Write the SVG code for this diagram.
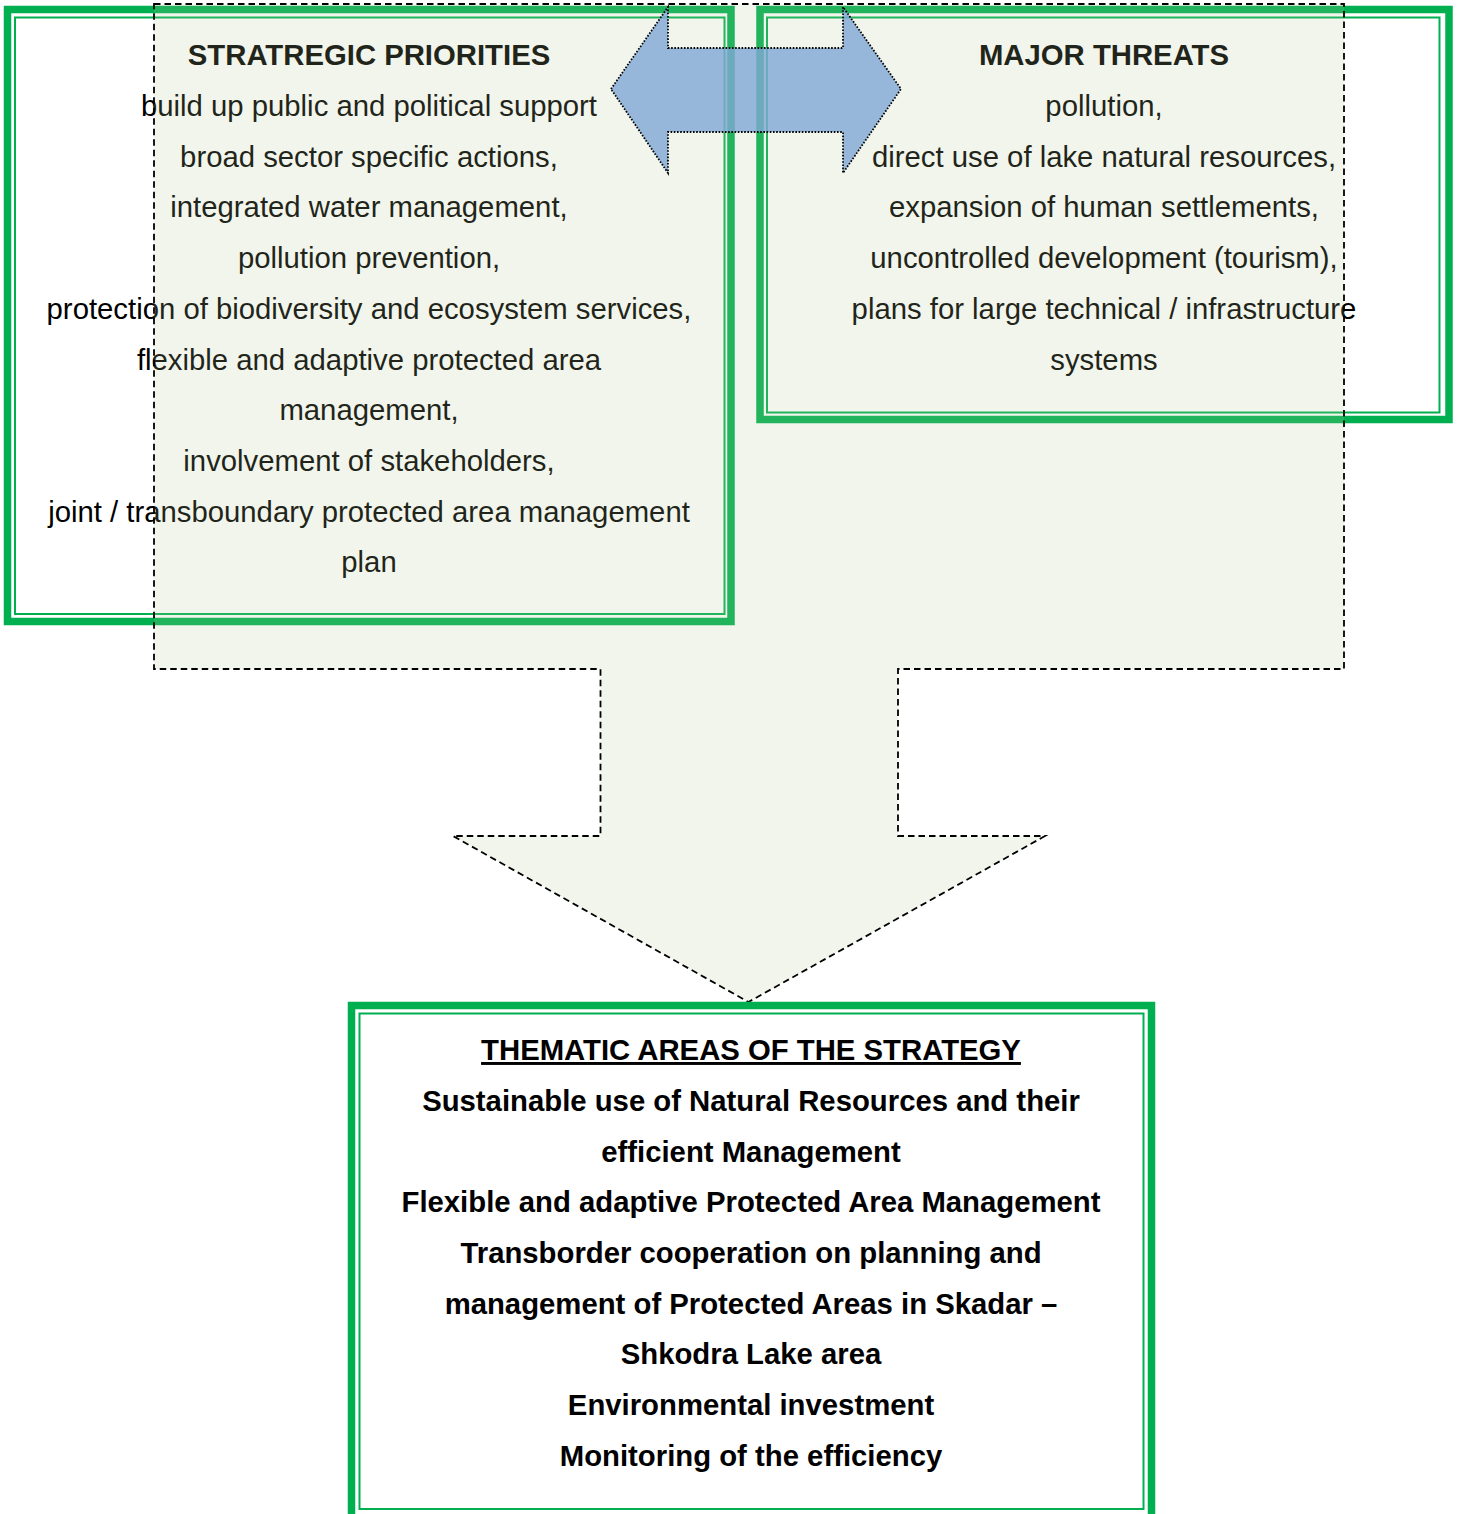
<svg xmlns="http://www.w3.org/2000/svg" width="1459" height="1514" viewBox="0 0 1459 1514">
<style>
.thick{fill:none;stroke:#00b050;stroke-width:7.5}
.thin{fill:none;stroke:#00b050;stroke-width:2}
.t{font-family:"Liberation Sans",Arial,sans-serif;font-size:29.3px;text-anchor:middle;fill:#000}
.b{font-weight:bold}
.dash{fill:#b7c795;fill-opacity:0.18;stroke:#000;stroke-width:1.8;stroke-dasharray:6.5 4}
.blue{fill:#7fa7d6;fill-opacity:0.8;stroke:#000;stroke-width:1.8;stroke-dasharray:1.6 1.6}
</style>
<rect width="1459" height="1514" fill="#fff"/>
<g id="priorities">
<rect class="thick" x="7.5" y="9.5" width="723.5" height="612"/>
<rect class="thin" x="15" y="17.5" width="709.5" height="596.5"/>
<text class="t b" x="369" y="65" fill="#222">STRATREGIC PRIORITIES</text>
<text class="t" x="369" y="116">build up public and political support</text>
<text class="t" x="369" y="167">broad sector specific actions,</text>
<text class="t" x="369" y="217">integrated water management,</text>
<text class="t" x="369" y="268">pollution prevention,</text>
<text class="t" x="369" y="319">protection of biodiversity and ecosystem services,</text>
<text class="t" x="369" y="370">flexible and adaptive protected area</text>
<text class="t" x="369" y="420">management,</text>
<text class="t" x="369" y="471">involvement of stakeholders,</text>
<text class="t" x="369" y="522">joint / transboundary protected area management</text>
<text class="t" x="369" y="572">plan</text>
</g>
<g id="threats">
<rect class="thick" x="760" y="9.5" width="689" height="410"/>
<rect class="thin" x="767" y="17.5" width="672.5" height="395"/>
<text class="t b" x="1104" y="65">MAJOR THREATS</text>
<text class="t" x="1104" y="116">pollution,</text>
<text class="t" x="1104" y="167">direct use of lake natural resources,</text>
<text class="t" x="1104" y="217">expansion of human settlements,</text>
<text class="t" x="1104" y="268">uncontrolled development (tourism),</text>
<text class="t" x="1104" y="319">plans for large technical / infrastructure</text>
<text class="t" x="1104" y="370">systems</text>
</g>
<g id="connectors">
<polygon id="flow-arrow" class="dash" points="154,4 1344,4 1344,669 898,669 898,836 1045,836 748.5,1002 453,836 600.5,836 600.5,669 154,669"/>
<polygon id="double-arrow" class="blue" points="611,89 668,7 668,48 843,48 843,7 901,89 843,173 843,132 668,132 668,173"/>
</g>
<g id="thematic">
<rect class="thick" x="351.5" y="1005.5" width="800" height="520"/>
<rect class="thin" x="359.5" y="1013.5" width="784" height="495.5"/>
<text class="t b" x="751" y="1060" text-decoration="underline">THEMATIC AREAS OF THE STRATEGY</text>
<text class="t b" x="751" y="1111">Sustainable use of Natural Resources and their</text>
<text class="t b" x="751" y="1162">efficient Management</text>
<text class="t b" x="751" y="1212">Flexible and adaptive Protected Area Management</text>
<text class="t b" x="751" y="1263">Transborder cooperation on planning and</text>
<text class="t b" x="751" y="1314">management of Protected Areas in Skadar –</text>
<text class="t b" x="751" y="1364">Shkodra Lake area</text>
<text class="t b" x="751" y="1415">Environmental investment</text>
<text class="t b" x="751" y="1466">Monitoring of the efficiency</text>
</g>
</svg>
